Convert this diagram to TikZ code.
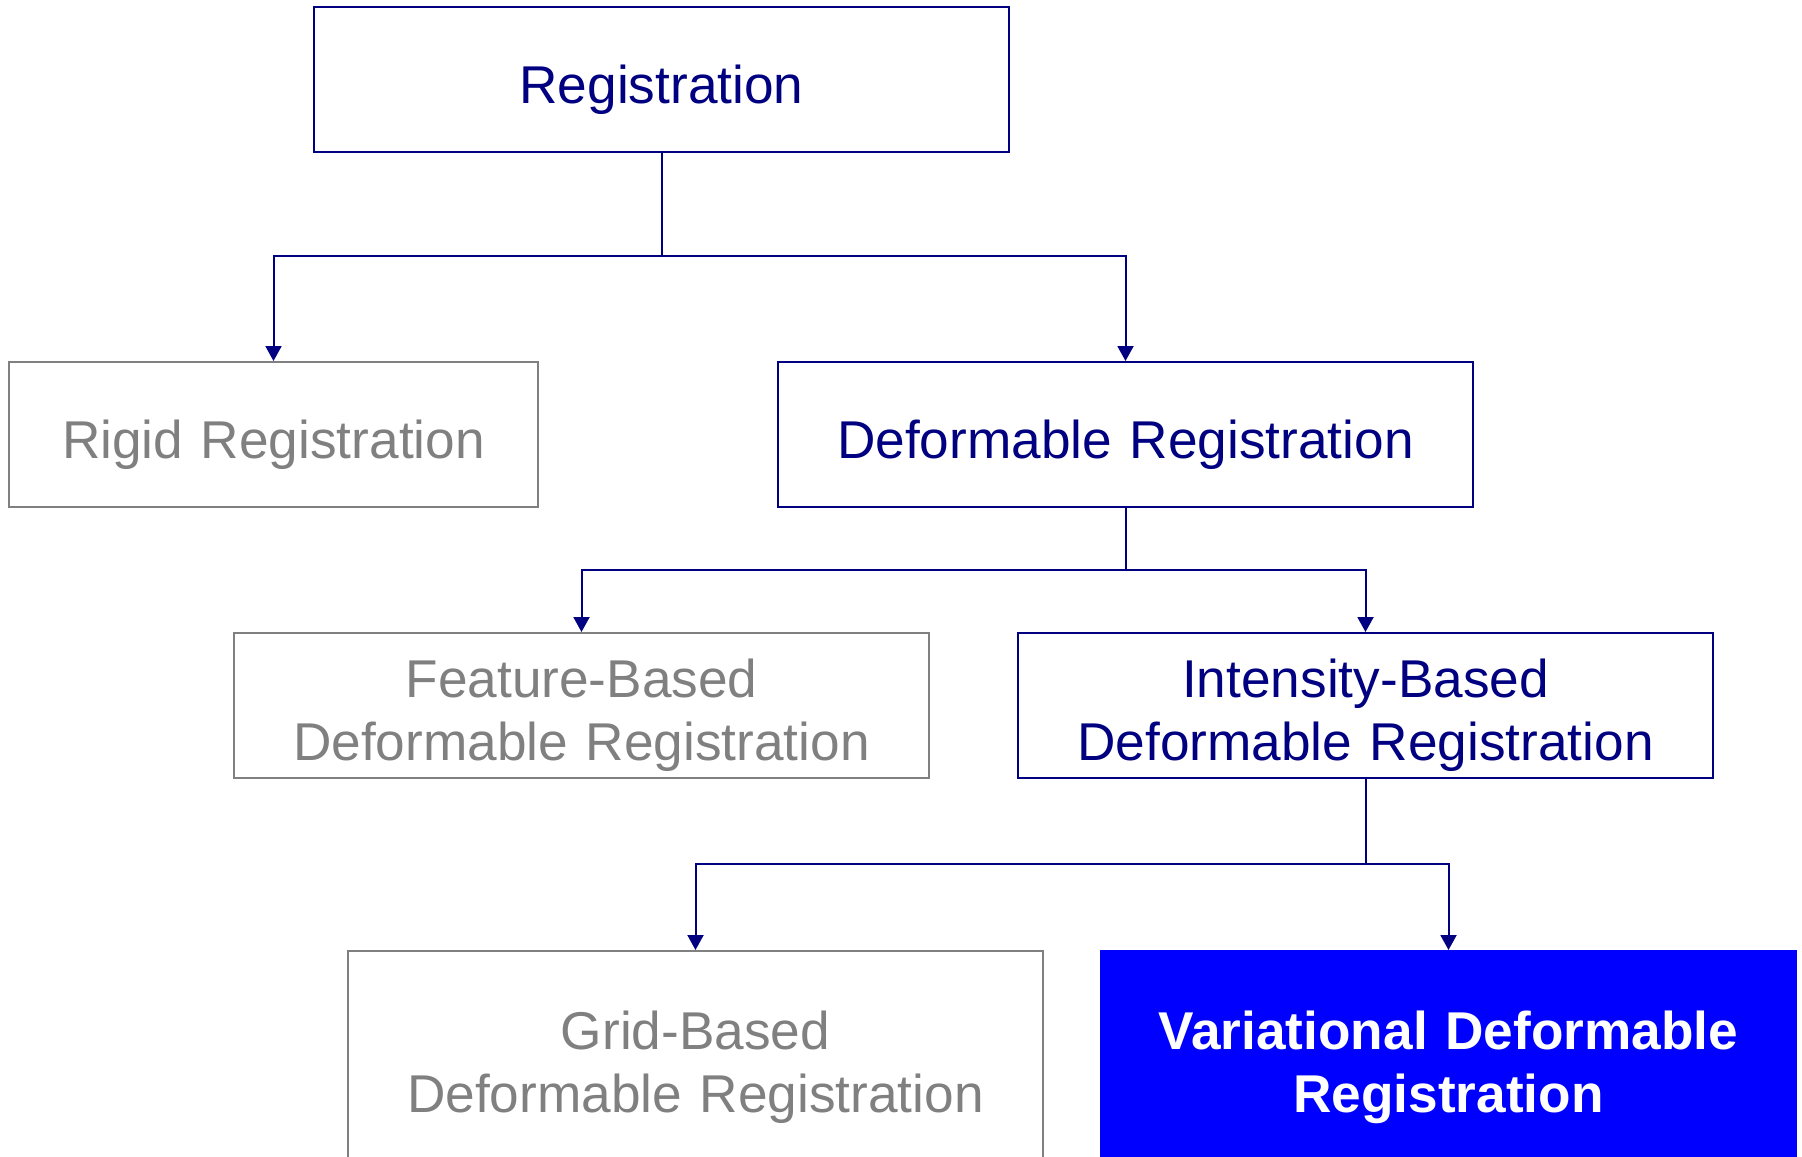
\documentclass[tikz,border=0pt]{standalone}
\usepackage{fontspec}
\setmainfont{Liberation Sans}
\usetikzlibrary{arrows.meta}
\definecolor{regnavy}{RGB}{0,0,128}
\definecolor{reggrey}{RGB}{128,128,128}
\definecolor{regblue}{RGB}{0,0,255}
\tikzset{
  box/.style={draw, line width=1pt, minimum width=347.5pt, minimum height=72.5pt,
    inner sep=0pt, text width=330pt, align=center, font=\fontsize{26.6}{31.6}\selectfont,
    execute at begin node={\rule{0pt}{1.1em}}},
  main/.style={box, draw=regnavy, text=regnavy},
  other/.style={box, draw=reggrey, text=reggrey},
  chosen/.style={box, draw=regblue, fill=regblue, text=white,
    font=\fontsize{26.6}{31.6}\selectfont\bfseries},
  link/.style={draw=regnavy, line width=1pt, -{Triangle[width=8pt,length=7.5pt]}}
}
\begin{document}
\begin{tikzpicture}[x=0.5pt,y=-0.5pt]
  \clip (0,0) rectangle (1802,1156);
  % root
  \node[main] (reg) at (661.5,79.5) {Registration};
  % level 1
  \node[other, minimum width=264.5pt, text width=250pt] (rigid) at (273.5,434.5) {Rigid Registration};
  \node[main] (deform) at (1125.5,434.5) {Deformable Registration};
  % level 2
  \node[other] (feature) at (581.5,705.5) {Feature-Based\\Deformable Registration};
  \node[main] (intensity) at (1365.5,705.5) {Intensity-Based\\Deformable Registration};
  % level 3
  \node[other, minimum height=106pt] (grid) at (695.5,1057) {Grid-Based\\Deformable Registration};
  \node[chosen, minimum height=106pt] (variational) at (1448.5,1057) {Variational Deformable\\Registration};

  % junctions
  \coordinate (j0) at (reg.south |- 0,256);
  \coordinate (j1) at (deform.south |- 0,570);
  \coordinate (j2) at (intensity.south |- 0,864);

  % level 1
  \draw[regnavy, line width=1pt] (reg.south) -- (j0);
  \draw[link] (j0) -| (rigid.north);
  \draw[link] (j0) -| (deform.north);

  % level 2
  \draw[regnavy, line width=1pt] (deform.south) -- (j1);
  \draw[link] (j1) -| (feature.north);
  \draw[link] (j1) -| (intensity.north);

  % level 3
  \draw[regnavy, line width=1pt] (intensity.south) -- (j2);
  \draw[link] (j2) -| (grid.north);
  \draw[link] (j2) -| (variational.north);
\end{tikzpicture}
\end{document}
